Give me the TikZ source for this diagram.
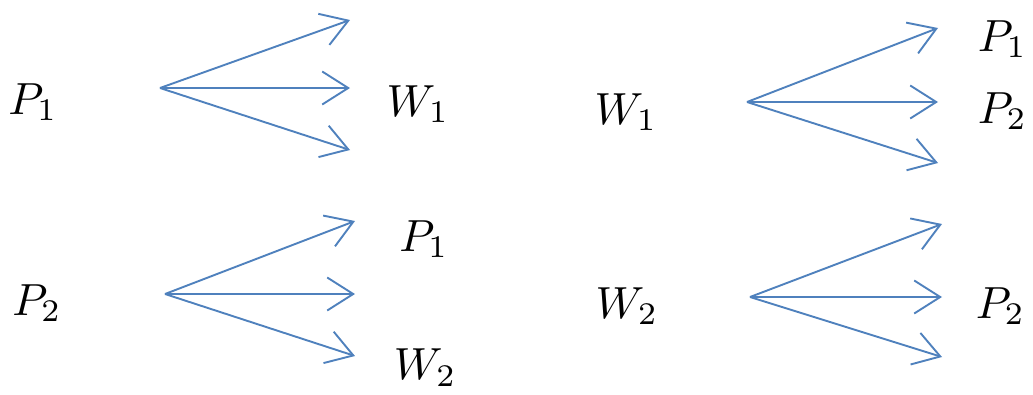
\documentclass[tikz,border=0pt]{standalone}
\usepackage{amsmath}
\usepackage{tikz}
\usepackage{xcolor}
\usetikzlibrary{arrows.meta,positioning}
\definecolor{fanblue}{RGB}{79,129,189}
\tikzset{
  term/.style={
    inner sep=0pt,
    scale=4.5
  },
  fan/.style={-{Straight Barb[length=26pt,width=33pt,line width=1.9pt]}, line width=1.9pt, draw=fanblue}
}

\begin{document}
\begin{tikzpicture}[x=1pt, y=-1pt]
  \useasboundingbox (0,0) rectangle (1033,394);

  % top left
  \node[term] (pA) at (33,102) {$P_1$};
  \node[term] (wA) at (418,104) {$W_1$};
  \coordinate (fanA) at (160,88);
  \coordinate (upA) at (350,20);
  \coordinate (midA) at (350,88);
  \coordinate (downA) at (350,150);

  % top right
  \node[term] (wB) at (626,112) {$W_1$};
  \node[term, anchor=west] (pB) at (977,39) {$P_1$};
  \node[term, anchor=west] (pC) at (977,111) {$P_2$};
  \coordinate (fanB) at (747,102);
  \coordinate (upB) at (938,28);
  \coordinate (midB) at (938,102);
  \coordinate (downB) at (938,163);

  % bottom left
  \node[term] (pD) at (37,303) {$P_2$};
  \node[term] (pE) at (424,239) {$P_1$};
  \node[term, anchor=north west] (wC) at (393,348) {$W_2$};
  \coordinate (fanC) at (165,294);
  \coordinate (upC) at (355,221);
  \coordinate (midC) at (355,294);
  \coordinate (downC) at (355,356);

  % bottom right
  \node[term] (wD) at (627,306) {$W_2$};
  \node[term, anchor=west] (pF) at (975,306) {$P_2$};
  \coordinate (fanD) at (750,297);
  \coordinate (upD) at (942,224);
  \coordinate (midD) at (942,297);
  \coordinate (downD) at (942,357);

  \draw[fan] (fanA) -- (upA);
  \draw[fan] (fanA) -- (midA);
  \draw[fan] (fanA) -- (downA);
  \draw[fan] (fanB) -- (upB);
  \draw[fan] (fanB) -- (midB);
  \draw[fan] (fanB) -- (downB);
  \draw[fan] (fanC) -- (upC);
  \draw[fan] (fanC) -- (midC);
  \draw[fan] (fanC) -- (downC);
  \draw[fan] (fanD) -- (upD);
  \draw[fan] (fanD) -- (midD);
  \draw[fan] (fanD) -- (downD);
\end{tikzpicture}
\end{document}
